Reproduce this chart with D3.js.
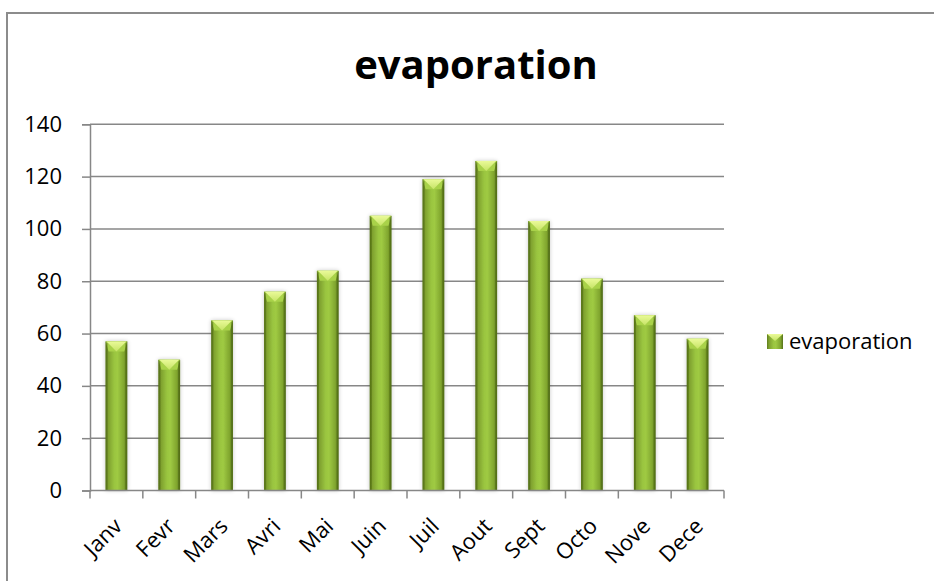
<!DOCTYPE html>
<html>
<head>
<meta charset="utf-8">
<script src="https://cdn.jsdelivr.net/npm/d3@7"></script>
<style>
  html, body { margin: 0; padding: 0; background: #fff; }
  svg { display: block; font-family: "Open Sans", "Noto Sans", sans-serif; }
</style>
</head>
<body>
<svg id="chart" width="934" height="581"></svg>
<script>
// Monthly evaporation
const months = ["Janv", "Fevr", "Mars", "Avri", "Mai", "Juin", "Juil", "Aout", "Sept", "Octo", "Nove", "Dece"];
const evaporation = [57, 50, 65, 76, 84, 105, 119, 126, 103, 81, 67, 58];
const yTicks = [0, 20, 40, 60, 80, 100, 120, 140];
const seriesName = "evaporation";
const titleText = "evaporation";

const svg = d3.select("#chart");
const W = 934, H = 581;
const plot = { left: 90, right: 724, top: 124.3, bottom: 490.5 };

// Gradients for the bevelled bars
const defs = svg.append("defs");
const body = defs.append("linearGradient").attr("id", "barBody")
  .attr("x1", "0").attr("x2", "1").attr("y1", "0").attr("y2", "0");
[[0, "#5f7d1c"], [0.12, "#7ea02e"], [0.4, "#9ac540"], [0.55, "#9fca43"], [0.85, "#80a52e"], [1, "#55711a"]]
  .forEach(([o, c]) => body.append("stop").attr("offset", o).attr("stop-color", c));
const cap = defs.append("linearGradient").attr("id", "barCap")
  .attr("x1", "0").attr("x2", "0").attr("y1", "0").attr("y2", "1");
[[0, "#eafa98"], [1, "#c6e466"]].forEach(([o, c]) => cap.append("stop").attr("offset", o).attr("stop-color", c));
const shade = defs.append("filter").attr("id", "barShadow")
  .attr("x", "-30%").attr("y", "-10%").attr("width", "160%").attr("height", "120%");
shade.append("feGaussianBlur").attr("in", "SourceAlpha").attr("stdDeviation", 2.2).attr("result", "b");
shade.append("feComponentTransfer").attr("in", "b").attr("result", "s")
  .append("feFuncA").attr("type", "linear").attr("slope", 0.22);
const mrg = shade.append("feMerge");
mrg.append("feMergeNode").attr("in", "s");
mrg.append("feMergeNode").attr("in", "SourceGraphic");

// Outer chart frame
svg.append("rect").attr("x", 7).attr("y", 13).attr("width", W + 20).attr("height", H + 20)
  .attr("fill", "#fff").attr("stroke", "#8c8c8c").attr("stroke-width", 2);

// Scales
const x = d3.scaleBand().domain(months).range([plot.left, plot.right]).paddingInner(0).paddingOuter(0);
const y = d3.scaleLinear().domain([0, 140]).range([plot.bottom, plot.top]);

// Title
svg.append("text").attr("x", 476).attr("y", 79).attr("text-anchor", "middle")
  .attr("font-size", 40).attr("font-weight", "bold").attr("fill", "#000").text(titleText);

// Horizontal gridlines
svg.append("g").selectAll("line").data(yTicks.filter(d => d > 0)).join("line")
  .attr("x1", plot.left).attr("x2", plot.right)
  .attr("y1", d => y(d)).attr("y2", d => y(d))
  .attr("stroke", "#878787").attr("stroke-width", 1.5);

// Y axis
const yAxis = svg.append("g").attr("transform", `translate(${plot.left},0)`)
  .call(d3.axisLeft(y).tickValues(yTicks).tickSize(8).tickPadding(20).tickFormat(d3.format("d")));
yAxis.select(".domain").attr("stroke", "#878787").attr("stroke-width", 1.5);
yAxis.selectAll(".tick line").attr("stroke", "#878787").attr("stroke-width", 1.5);
yAxis.selectAll(".tick text").attr("font-size", 22).attr("fill", "#000")
  .attr("font-family", "'Open Sans', sans-serif");

// Bars
const bw = x.bandwidth() * 0.41;
const capH = 10;
const bars = svg.append("g").selectAll("g").data(months.map((m, i) => ({ m, v: evaporation[i] }))).join("g")
  .attr("filter", "url(#barShadow)");
bars.append("rect")
  .attr("x", d => x(d.m) + (x.bandwidth() - bw) / 2)
  .attr("y", d => y(d.v))
  .attr("width", bw)
  .attr("height", d => y(0) - y(d.v))
  .attr("fill", "url(#barBody)");
// Top bevel: side facets then the light chevron
bars.append("path")
  .attr("d", d => {
    const x0 = x(d.m) + (x.bandwidth() - bw) / 2, x1 = x0 + bw, t = y(d.v);
    return `M${x0},${t} L${x1},${t} L${x1 - 3},${t + capH} L${x0 + 3},${t + capH} Z`;
  })
  .attr("fill", "#a9d24a");
bars.append("path")
  .attr("d", d => {
    const x0 = x(d.m) + (x.bandwidth() - bw) / 2, x1 = x0 + bw, t = y(d.v);
    return `M${x0 + 1},${t} L${x1 - 1},${t} L${(x0 + x1) / 2},${t + capH} Z`;
  })
  .attr("fill", "url(#barCap)");
bars.append("path")
  .attr("d", d => {
    const x0 = x(d.m) + (x.bandwidth() - bw) / 2, x1 = x0 + bw, t = y(d.v);
    return `M${x0},${t} L${x0 + 2},${t + 2} L${x0 + 2},${y(0)} L${x0},${y(0)} Z M${x1},${t} L${x1 - 2},${t + 2} L${x1 - 2},${y(0)} L${x1},${y(0)} Z`;
  })
  .attr("fill", "#4e6a14").attr("opacity", 0.55);

// X axis
const xAxis = svg.append("g").attr("transform", `translate(0,${plot.bottom})`);
xAxis.append("line").attr("x1", plot.left).attr("x2", plot.right)
  .attr("stroke", "#878787").attr("stroke-width", 1.5);
const bounds = d3.range(months.length + 1).map(i => plot.left + i * x.step());
xAxis.selectAll("line.tk").data(bounds).join("line").attr("class", "tk")
  .attr("x1", d => d).attr("x2", d => d).attr("y1", 0).attr("y2", 8)
  .attr("stroke", "#878787").attr("stroke-width", 1.5);
xAxis.selectAll("text").data(months).join("text")
  .attr("transform", d => `translate(${x(d) + x.bandwidth() / 2 + 7},${37}) rotate(-45)`)
  .attr("text-anchor", "end").attr("font-size", 22).attr("fill", "#000")
  .text(d => d);

// Legend
const lg = svg.append("g").attr("transform", "translate(767,334)");
lg.append("rect").attr("width", 16).attr("height", 15).attr("fill", "url(#barBody)");
lg.append("path").attr("d", "M0,0 L16,0 L8,7 Z").attr("fill", "url(#barCap)");
lg.append("text").attr("x", 22).attr("y", 15).attr("font-size", 22).attr("fill", "#000").text(seriesName);
</script>
</body>
</html>
